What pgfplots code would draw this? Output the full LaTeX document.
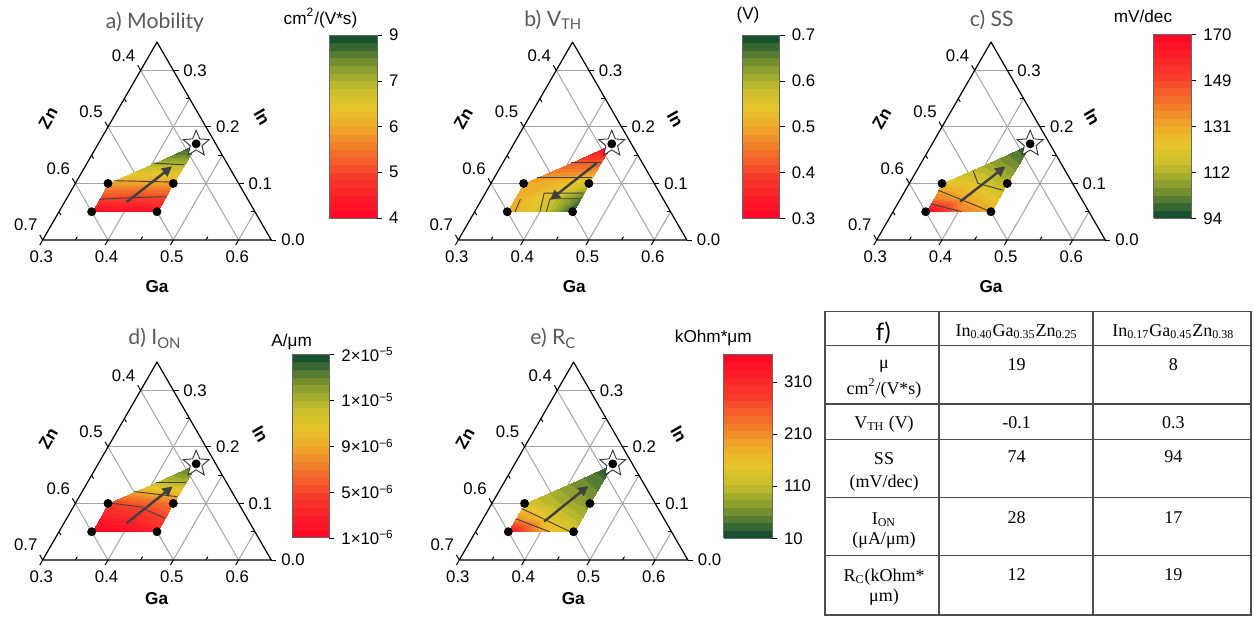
\documentclass[border=0pt]{standalone}
\usepackage{fontspec}
\setmainfont{Liberation Sans}
\newfontfamily\titlefont{Lato}
\newfontfamily\tabfont{Liberation Serif}
\usepackage{pgfplots}
\pgfplotsset{compat=1.18}
\usepackage{pgfplotstable}
\usetikzlibrary{arrows.meta}

\definecolor{gridc}{RGB}{165,165,165}
\definecolor{titc}{RGB}{89,89,89}
\definecolor{arrc}{RGB}{64,64,64}

\newcommand\ticfont{\fontsize{8.4}{9}\selectfont}
\newcommand\lblfont{\fontsize{8.6}{9}\selectfont\bfseries}
\newcommand\cbtfont{\fontsize{8.6}{9}\selectfont}
\newcommand\ttlfont{\titlefont\fontsize{10.6}{11}\selectfont\color{titc}}
\newcommand\tbfont{\tabfont\fontsize{9}{10}\selectfont}

\pgfkeys{/pgfplots/table/tern/.style={x expr=\thisrow{g}+0.5*\thisrow{i}, y expr=0.8660254*\thisrow{i}}}

\pgfplotsset{
  colormap={rg}{rgb255(0cm)=(255,8,40); rgb255(2cm)=(248,55,42); rgb255(3.5cm)=(243,110,42);
    rgb255(5cm)=(238,170,42); rgb255(6cm)=(232,196,44); rgb255(7cm)=(205,192,44);
    rgb255(7.5cm)=(180,182,44); rgb255(8.5cm)=(128,152,48); rgb255(9.3cm)=(75,115,50); rgb255(10cm)=(22,82,48)},
  colormap={gr}{rgb255(0cm)=(22,82,48); rgb255(0.7cm)=(75,115,50); rgb255(1.5cm)=(128,152,48);
    rgb255(2.5cm)=(180,182,44); rgb255(3cm)=(205,192,44); rgb255(4cm)=(232,196,44);
    rgb255(5cm)=(238,170,42); rgb255(6.5cm)=(243,110,42); rgb255(8cm)=(248,55,42); rgb255(10cm)=(255,8,40)},
  colormap={rgB}{samples of colormap={24 of rg}},
  colormap={grB}{samples of colormap={24 of gr}},
  ternax/.style={x=326.5pt, y=326.5pt, xmin=0.3, xmax=0.65, ymin=0, ymax=0.30311,
    axis lines=none, ticks=none, clip=false, anchor=south west, colormap access=piecewise constant},
  cbar/.style={at={(parent axis.south west)}, anchor=south west, scale only axis,
    tick align=outside, ytick pos=right, major tick length=2.5pt,
    yticklabel style={font=\ticfont}, axis line style={black!60}, ytick style={black},
    xtick=\empty},
}

\pgfdeclareplotmark{fstar}{%
  \pgfpathmoveto{\pgfpoint{0pt}{\pgfplotmarksize}}%
  \pgfpathlineto{\pgfpoint{0.265\pgfplotmarksize}{0.364\pgfplotmarksize}}%
  \pgfpathlineto{\pgfpoint{0.951\pgfplotmarksize}{0.309\pgfplotmarksize}}%
  \pgfpathlineto{\pgfpoint{0.428\pgfplotmarksize}{-0.139\pgfplotmarksize}}%
  \pgfpathlineto{\pgfpoint{0.588\pgfplotmarksize}{-0.809\pgfplotmarksize}}%
  \pgfpathlineto{\pgfpoint{0pt}{-0.45\pgfplotmarksize}}%
  \pgfpathlineto{\pgfpoint{-0.588\pgfplotmarksize}{-0.809\pgfplotmarksize}}%
  \pgfpathlineto{\pgfpoint{-0.428\pgfplotmarksize}{-0.139\pgfplotmarksize}}%
  \pgfpathlineto{\pgfpoint{-0.951\pgfplotmarksize}{0.309\pgfplotmarksize}}%
  \pgfpathlineto{\pgfpoint{-0.265\pgfplotmarksize}{0.364\pgfplotmarksize}}%
  \pgfpathclose
  \pgfusepathqfillstroke}

% triangles of the composition region: Ga, In, and colour-scale values of panels a-e
\pgfplotstableread{
g i a b c d e
0.35 0.05 0.1 0.50 4.0 0.0 340
0.40 0.05 0.1 0.56 2.5 0.1 190
0.40 0.075 0.95 0.56 2.0 0.6 140
0.35 0.05 0.1 0.50 4.0 0.0 340
0.40 0.075 0.95 0.56 2.0 0.6 140
0.35 0.075 1.0 0.50 2.4 0.4 210
0.40 0.05 0.1 0.56 2.5 0.1 190
0.45 0.05 0.2 0.70 2.0 0.5 125
0.45 0.075 1.0 0.66 1.5 1.0 100
0.40 0.05 0.1 0.56 2.5 0.1 190
0.45 0.075 1.0 0.66 1.5 1.0 100
0.40 0.075 0.95 0.56 2.0 0.6 140
0.35 0.075 1.0 0.50 2.4 0.4 210
0.40 0.075 0.95 0.56 2.0 0.6 140
0.40 0.10 1.9 0.52 1.5 1.2 100
0.35 0.075 1.0 0.50 2.4 0.4 210
0.40 0.10 1.9 0.52 1.5 1.2 100
0.35 0.10 1.9 0.50 1.7 0.9 130
0.40 0.075 0.95 0.56 2.0 0.6 140
0.45 0.075 1.0 0.66 1.5 1.0 100
0.45 0.10 1.9 0.57 1.0 1.5 70
0.40 0.075 0.95 0.56 2.0 0.6 140
0.45 0.10 1.9 0.57 1.0 1.5 70
0.40 0.10 1.9 0.52 1.5 1.2 100
0.35 0.10 1.9 0.50 1.7 0.9 130
0.40 0.10 1.9 0.52 1.5 1.2 100
0.40 0.135 3.0 0.43 0.9 2.7 70
0.40 0.10 1.9 0.52 1.5 1.2 100
0.45 0.10 1.9 0.57 1.0 1.5 70
0.45 0.135 3.0 0.43 0.5 2.9 45
0.40 0.135 3.0 0.43 0.9 2.7 70
0.45 0.135 3.0 0.43 0.5 2.9 45
0.45 0.17 4.0 0.30 0.1 3.8 20
0.40 0.10 1.9 0.52 1.5 1.2 100
0.45 0.135 3.0 0.43 0.5 2.9 45
0.40 0.135 3.0 0.43 0.9 2.7 70
}\tri

\newcommand\tl[4]{\addplot[gridc, line width=0.5pt] table[tern,row sep=\\]{g i\\#1 #2\\#3 #4\\};}
\newcommand\tk[4]{\addplot[black, line width=0.5pt] table[tern,row sep=\\]{g i\\#1 #2\\#3 #4\\};}
\newcommand\cl[1]{\addplot[black!75, line width=0.45pt] table[tern,row sep=\\]{g i\\#1};}
\newcommand\arr[4]{\addplot[arrc, line width=1.2pt, -{Triangle[length=5pt,width=5pt]}] table[tern,row sep=\\]{g i\\#1 #2\\#3 #4\\};}

\newcommand\ternframe{%
  \tl{0.3}{0.1}{0.55}{0.1}\tl{0.3}{0.2}{0.45}{0.2}\tl{0.3}{0.3}{0.35}{0.3}%
  \tl{0.4}{0}{0.4}{0.25}\tl{0.5}{0}{0.5}{0.15}\tl{0.6}{0}{0.6}{0.05}%
  \tl{0.3}{0.3}{0.6}{0}\tl{0.3}{0.2}{0.5}{0}\tl{0.3}{0.1}{0.4}{0}%
  \addplot[black, line width=0.6pt, line join=round] table[tern,row sep=\\]{g i\\0.3 0\\0.65 0\\0.3 0.35\\0.3 0\\};
  \tk{0.65}{0}{0.658}{0}\tk{0.55}{0.1}{0.558}{0.1}\tk{0.45}{0.2}{0.458}{0.2}\tk{0.35}{0.3}{0.358}{0.3}%
  \tk{0.3}{0}{0.3}{-0.009}\tk{0.4}{0}{0.4}{-0.009}\tk{0.5}{0}{0.5}{-0.009}\tk{0.6}{0}{0.6}{-0.009}%
  \tk{0.3}{0.3}{0.291}{0.309}\tk{0.3}{0.2}{0.291}{0.209}\tk{0.3}{0.1}{0.291}{0.109}\tk{0.3}{0}{0.291}{0.009}%
  \tk{0.35}{0}{0.35}{0.006}\tk{0.45}{0}{0.45}{0.006}\tk{0.55}{0}{0.55}{0.006}%
  \tk{0.6}{0.05}{0.594}{0.05}\tk{0.5}{0.15}{0.494}{0.15}\tk{0.4}{0.25}{0.394}{0.25}%
  \tk{0.3}{0.25}{0.306}{0.244}\tk{0.3}{0.15}{0.306}{0.144}\tk{0.3}{0.05}{0.306}{0.044}%
}
\newcommand\ternlabels{%
  \node[font=\ticfont,xshift=-0.7pt,yshift=-8.5pt] at (axis cs:0.3,0) {0.3};
  \node[font=\ticfont,xshift=-0.7pt,yshift=-8.5pt] at (axis cs:0.4,0) {0.4};
  \node[font=\ticfont,xshift=-0.7pt,yshift=-8.5pt] at (axis cs:0.5,0) {0.5};
  \node[font=\ticfont,xshift=-0.7pt,yshift=-8.5pt] at (axis cs:0.6,0) {0.6};
  \node[font=\ticfont,anchor=west,xshift=1.5pt] at (axis cs:0.65,0) {0.0};
  \node[font=\ticfont,anchor=west,xshift=1.5pt] at (axis cs:0.6,0.0866) {0.1};
  \node[font=\ticfont,anchor=west,xshift=1.5pt] at (axis cs:0.55,0.1732) {0.2};
  \node[font=\ticfont,anchor=west,xshift=1.5pt] at (axis cs:0.5,0.2598) {0.3};
  \node[font=\ticfont,xshift=-8.5pt,yshift=7.5pt] at (axis cs:0.45,0.2598) {0.4};
  \node[font=\ticfont,xshift=-8.5pt,yshift=7.5pt] at (axis cs:0.4,0.1732) {0.5};
  \node[font=\ticfont,xshift=-8.5pt,yshift=7.5pt] at (axis cs:0.35,0.0866) {0.6};
  \node[font=\ticfont,xshift=-8.5pt,yshift=7.5pt] at (axis cs:0.3,0) {0.7};
}
\newcommand\pts{%
  \addplot[only marks, mark=fstar, mark size=6.8pt, mark options={draw=black!80, fill=white, line width=0.45pt}] table[tern,row sep=\\]{g i\\0.45 0.17\\};
  \addplot[only marks, mark=*, mark size=2pt, black] table[tern,row sep=\\]{g i\\0.35 0.05\\0.45 0.05\\0.35 0.1\\0.45 0.1\\0.45 0.17\\};
}

\begin{document}
\begin{tikzpicture}
\useasboundingbox (0,0) rectangle (627.5pt,308.5pt);

% ---------- a) Mobility
\begin{axis}[ternax, at={(21.35pt,188.5pt)}, colormap name=rgB, point meta min=0, point meta max=4,
  colorbar, colorbar style={cbar, xshift=134.8pt, yshift=11pt, width=23.85pt, height=91.5pt,
  ytick={0,1,2,3,4}, yticklabels={4,5,6,7,9}}]
  \ternframe
  \addplot[patch, shader=interp, point meta=\thisrow{a}] table[tern] {\tri};
  \cl{0.35 0.072\\0.40 0.075\\0.45 0.0766\\}
  \cl{0.3569 0.1048\\0.45 0.1025\\}
  \cl{0.4014 0.136\\0.45 0.133\\}
  \arr{0.395}{0.067}{0.433}{0.13}
  \pts
  \ternlabels
\end{axis}

% ---------- b) VTH
\begin{axis}[ternax, at={(229.15pt,188.5pt)}, colormap name=rgB, point meta min=0.3, point meta max=0.7,
  colorbar, colorbar style={cbar, xshift=133.35pt, yshift=10.85pt, width=18.85pt, height=91.65pt,
  ytick={0.3,0.4,0.5,0.6,0.7}, yticklabels={0.3,0.4,0.5,0.6,0.7}}]
  \ternframe
  \addplot[patch, shader=interp, point meta=\thisrow{b}] table[tern] {\tri};
  \cl{0.4043 0.138\\0.45 0.138\\}
  \cl{0.3657 0.111\\0.45 0.111\\}
  \cl{0.362 0.05\\0.359 0.072\\}
  \cl{0.40 0.05\\0.39 0.083\\0.45 0.083\\}
  \cl{0.41 0.05\\0.404 0.073\\0.45 0.073\\}
  \arr{0.444}{0.136}{0.405}{0.071}
  \pts
  \ternlabels
\end{axis}

% ---------- c) SS
\begin{axis}[ternax, at={(438.35pt,188.5pt)}, colormap name=grB, point meta min=0, point meta max=4,
  colorbar, colorbar style={cbar, xshift=130pt, yshift=10.85pt, width=18.8pt, height=92pt,
  ytick={0,1,2,3,4}, yticklabels={94,112,131,149,170}}]
  \ternframe
  \addplot[patch, shader=interp, point meta=\thisrow{c}] table[tern] {\tri};
  \cl{0.35 0.064\\0.405 0.05\\}
  \cl{0.35 0.088\\0.45 0.05\\}
  \cl{0.386 0.123\\0.405 0.10\\0.45 0.088\\}
  \arr{0.394}{0.068}{0.432}{0.13}
  \pts
  \ternlabels
\end{axis}

% ---------- d) ION
\begin{axis}[ternax, at={(21.35pt,28.5pt)}, colormap name=rgB, point meta min=0, point meta max=4,
  colorbar, colorbar style={cbar, xshift=116.15pt, yshift=11.15pt, width=18.65pt, height=91.7pt,
  ytick={0,1,2,3,4}, yticklabels={1×10\textsuperscript{−6},5×10\textsuperscript{−6},9×10\textsuperscript{−6},1×10\textsuperscript{−5},2×10\textsuperscript{−5}}}]
  \ternframe
  \addplot[patch, shader=interp, point meta=\thisrow{d}] table[tern] {\tri};
  \cl{0.3514 0.101\\0.402 0.094\\0.45 0.074\\}
  \cl{0.38 0.121\\0.45 0.112\\}
  \cl{0.4043 0.138\\0.45 0.138\\}
  \arr{0.396}{0.065}{0.434}{0.13}
  \pts
  \ternlabels
\end{axis}

% ---------- e) RC
\begin{axis}[ternax, at={(229.65pt,28.5pt)}, colormap name=grB, point meta min=10, point meta max=363,
  colorbar, colorbar style={cbar, xshift=123.7pt, yshift=10.85pt, width=24.15pt, height=92pt,
  ytick={10,110,210,310}, yticklabels={10,110,210,310}}]
  \ternframe
  \addplot[patch, shader=interp, point meta=\thisrow{e}] table[tern] {\tri};
  \cl{0.35 0.073\\0.413 0.05\\}
  \cl{0.35 0.091\\0.445 0.05\\}
  \arr{0.396}{0.068}{0.432}{0.131}
  \pts
  \ternlabels
\end{axis}

% ---------- titles
\node[font=\ttlfont] at (77.5pt,297.65pt) {a) Mobility};
\node[font=\ttlfont] at (276.65pt,298.5pt) {b) V\textsubscript{TH}};
\node[font=\ttlfont] at (495.85pt,298.5pt) {c) SS};
\node[font=\ttlfont] at (77.5pt,139.35pt) {d) I\textsubscript{ON}};
\node[font=\ttlfont] at (276.65pt,139.35pt) {e) R\textsubscript{C}};
% colorbar units
\node[font=\cbtfont] at (160.25pt,299.5pt) {cm\textsuperscript{2}/(V*s)};
\node[font=\cbtfont] at (374pt,301pt) {(V)};
\node[font=\cbtfont] at (571.5pt,300.5pt) {mV/dec};
\node[font=\cbtfont] at (145.85pt,137.65pt) {A/μm};
\node[font=\cbtfont] at (356.65pt,139.35pt) {kOhm*μm};
% axis names
\foreach \x/\y in {78.5/165,287.15/165,495.5/165,78.35/9.35,286.65/9.35}{\node[font=\lblfont] at (\x pt,\y pt) {Ga};}
\foreach \x/\y in {24/249.5,231.65/249.35,440.85/249.35,24.15/89.35,232.5/89.35}{\node[font=\lblfont,rotate=60,inner sep=0pt] at (\x pt,\y pt) {Zn};}
\foreach \x/\y in {131/250,337.65/249,546/250,130.15/91.5,339.35/91.5}{\node[font=\lblfont,rotate=-60,inner sep=0pt] at (\x pt,\y pt) {In};}

% ---------- f) table
\begin{scope}[black!70, line width=0.7pt]
\draw (412.5pt,1pt) rectangle (625.5pt,152.65pt);
\draw (469.5pt,1pt) -- (469.5pt,152.65pt);
\draw (546.5pt,1pt) -- (546.5pt,152.65pt);
\foreach \y in {135.65,106.5,88.85,59.85,30.65}{\draw (412.5pt,\y pt) -- (625.5pt,\y pt);}
\end{scope}
\node[font=\titlefont\fontsize{12}{12}\selectfont] at (441.65pt,141.85pt) {f)};
\node[font=\tbfont] at (508.35pt,142.65pt) {In\textsubscript{0.40}Ga\textsubscript{0.35}Zn\textsubscript{0.25}};
\node[font=\tbfont] at (586.65pt,142.65pt) {In\textsubscript{0.17}Ga\textsubscript{0.45}Zn\textsubscript{0.38}};
\node[font=\tbfont] at (442pt,125.15pt) {μ};
\node[font=\tbfont] at (442pt,114.35pt) {cm\textsuperscript{2}/(V*s)};
\node[font=\tbfont] at (508.35pt,126pt) {19};
\node[font=\tbfont] at (586.65pt,126pt) {8};
\node[font=\tbfont] at (442pt,96.35pt) {V\textsubscript{TH} (V)};
\node[font=\tbfont] at (508.35pt,97.35pt) {-0.1};
\node[font=\tbfont] at (586.65pt,97.35pt) {0.3};
\node[font=\tbfont] at (442pt,79.35pt) {SS};
\node[font=\tbfont] at (442pt,67.15pt) {(mV/dec)};
\node[font=\tbfont] at (508.35pt,80.15pt) {74};
\node[font=\tbfont] at (586.65pt,80.15pt) {94};
\node[font=\tbfont] at (442pt,48.5pt) {I\textsubscript{ON}};
\node[font=\tbfont] at (442pt,38.5pt) {(μA/μm)};
\node[font=\tbfont] at (508.35pt,49.85pt) {28};
\node[font=\tbfont] at (586.65pt,49.85pt) {17};
\node[font=\tbfont] at (442pt,20.15pt) {R\textsubscript{C}(kOhm*};
\node[font=\tbfont] at (442pt,10.15pt) {μm)};
\node[font=\tbfont] at (508.35pt,21pt) {12};
\node[font=\tbfont] at (586.65pt,21pt) {19};
\end{tikzpicture}
\end{document}
